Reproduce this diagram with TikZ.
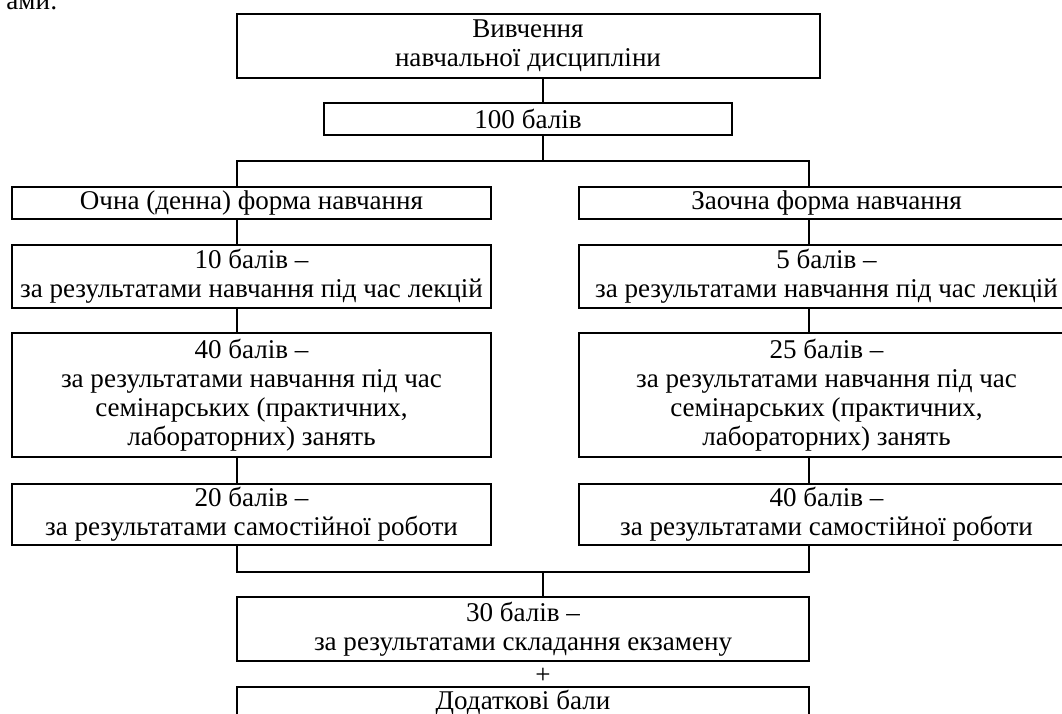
\documentclass[tikz,border=0pt]{standalone}
\usepackage{fontspec}
\setmainfont{Liberation Serif}

\tikzset{
  box/.style={draw, align=center, inner sep=0pt,
    font=\fontsize{20.3}{21.6}\selectfont},
  sz/.style 2 args={minimum width=#1*0.75pt, minimum height=#2*0.75pt},
}

\begin{document}
\begin{tikzpicture}[x=0.75pt,y=-0.75pt,line width=1.5pt]
    \useasboundingbox (0,0) rectangle (1062,713);
    \node[anchor=base west,font=\fontsize{20.3}{21.6}\selectfont] (rest) at (1,10) {ами:};
    % top
    \node[box,sz={583}{64}] (study) at (528,46) {Вивчення\\навчальної дисципліни};
    \node[box,sz={408}{32}] (total) at (528,119) {100 балів};
    \coordinate (cx) at (543,161);
    \coordinate (lx) at (237,161);
    \coordinate (rx) at (809,161);
    % left column
    \node[box,sz={479}{32}] (ochna) at (251.5,203) {Очна (денна) форма навчання};
    \node[box,sz={479}{63}] (l10) at (251.5,276.5) {10 балів –\\за результатами навчання під час лекцій};
    \node[box,sz={479}{124}] (l40) at (251.5,395) {40 балів –\\за результатами навчання під час\\семінарських (практичних,\\лабораторних) занять};
    \node[box,sz={479}{61}] (l20) at (251.5,514.5) {20 балів –\\за результатами самостійної роботи};
    % right column
    \node[box,sz={495}{32}] (zaoch) at (826.5,203) {Заочна форма навчання};
    \node[box,sz={495}{63}] (r5) at (826.5,276.5) {5 балів –\\за результатами навчання під час лекцій};
    \node[box,sz={495}{124}] (r25) at (826.5,395) {25 балів –\\за результатами навчання під час\\семінарських (практичних,\\лабораторних) занять};
    \node[box,sz={495}{61}] (r40) at (826.5,514.5) {40 балів –\\за результатами самостійної роботи};
    % bottom
    \coordinate (lb) at (237,572);
    \coordinate (rb) at (809,572);
    \node[box,sz={572}{64}] (exam) at (523,629) {30 балів –\\за результатами складання екзамену};
    \node[font=\fontsize{20.3}{21.6}\selectfont,inner sep=0pt] (plus) at (543,676) {+};
    \node[box,sz={572}{32}] (extra) at (523,703) {Додаткові бали};

    \draw (study.south -| cx) -- (total.north -| cx);
    \draw (total.south -| cx) -- (cx);
    \draw (ochna.north -| lx) -- (lx) -- (rx) -- (zaoch.north -| rx);
    \foreach \a/\b in {ochna/l10, l10/l40, l40/l20}
        \draw (\a.south -| lx) -- (\b.north -| lx);
    \foreach \a/\b in {zaoch/r5, r5/r25, r25/r40}
        \draw (\a.south -| rx) -- (\b.north -| rx);
    \draw (l20.south -| lb) -- (lb) -- (rb) -- (r40.south -| rb);
    \draw (cx |- lb) -- (exam.north -| cx);
\end{tikzpicture}
\end{document}
